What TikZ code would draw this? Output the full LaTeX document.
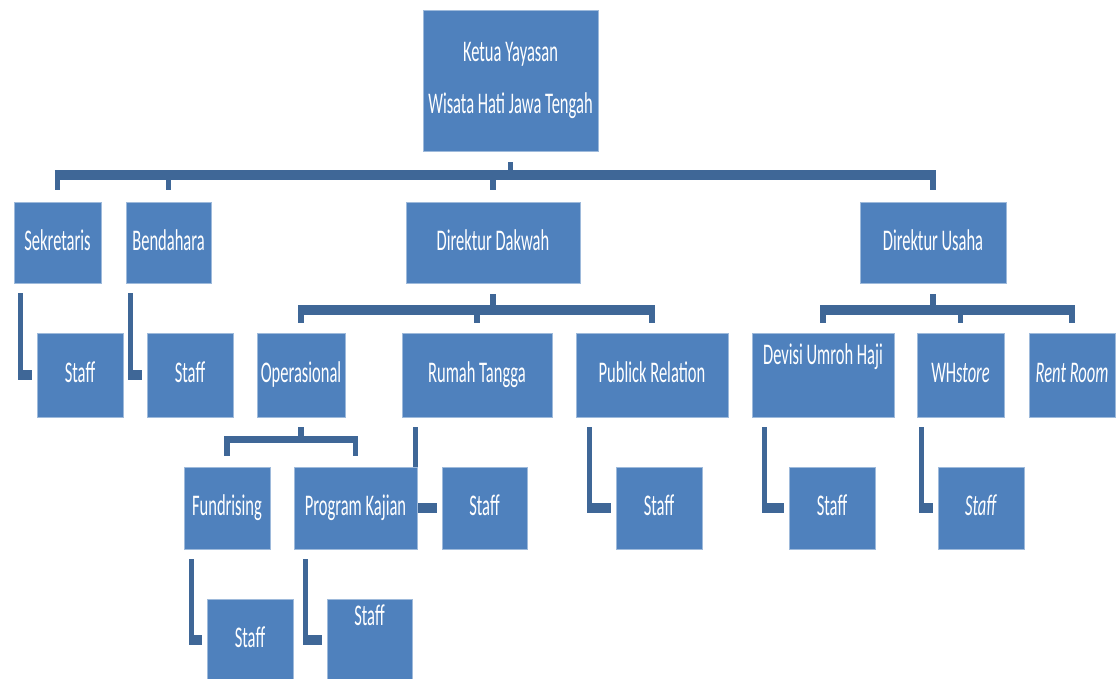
\documentclass[tikz,border=0pt]{standalone}
\usepackage{fontspec}
\setmainfont{Carlito}[FakeStretch=0.55]
\usetikzlibrary{calc}
\definecolor{boxblue}{HTML}{4F81BD}
\definecolor{linkblue}{HTML}{3F6797}
\pgfdeclarelayer{background}
\pgfdeclarelayer{canvas}
\pgfsetlayers{canvas,background,main}
\begin{document}
\begin{tikzpicture}[x=0.5pt,y=-0.5pt,
  base/.style={fill=boxblue, draw=boxblue!55!white, line width=0.4pt, text=white, inner sep=0pt},
  box/.style={base, font=\fontsize{15}{18}\selectfont, text height=10.5pt, text depth=3pt},
  hl/.style={draw=linkblue, line width=5pt},
  vl/.style={draw=linkblue, line width=2.6pt}]
\path[use as bounding box, clip] (0,0) rectangle (1118,679);
\begin{pgfonlayer}{canvas}
\fill[white] (0,0) rectangle (1118,679);
\end{pgfonlayer}
% level 0
\node[base, align=center, font=\fontsize{15}{26}\selectfont, minimum width=87.5pt, minimum height=70.5pt] (ketua) at (510.5,80.5) {Ketua Yayasan\\Wisata Hati Jawa Tengah};
% level 1
\node[box, minimum width=43.5pt, minimum height=40.5pt] (sek) at (57.5,242.5) {Sekretaris};
\node[box, minimum width=42.5pt, minimum height=40.5pt] (bend) at (168.5,242.5) {Bendahara};
\node[box, minimum width=87pt, minimum height=40.5pt] (dakwah) at (493,242.5) {Direktur Dakwah};
\node[box, minimum width=73pt, minimum height=40.5pt] (usaha) at (933,242.5) {Direktur Usaha};
% level 2
\node[box, minimum width=43pt, minimum height=42pt] (sekstaff) at (80,375) {Staff};
\node[box, minimum width=43pt, minimum height=42pt] (bendstaff) at (190,375) {Staff};
\node[box, minimum width=44pt, minimum height=42pt] (oper) at (301,375) {Operasional};
\node[box, minimum width=75pt, minimum height=42pt] (rumah) at (477,375) {Rumah Tangga};
\node[box, minimum width=76pt, minimum height=42pt] (pr) at (652,375) {Publick Relation};
\node[box, minimum width=71pt, minimum height=42pt, text height=10pt, text depth=20.5pt] (umroh) at (823,375) {Devisi Umroh Haji};
\node[box, minimum width=43.5pt, minimum height=42pt] (whstore) at (960.5,375) {WH\textit{store}};
\node[box, minimum width=43pt, minimum height=42pt] (rent) at (1072,375) {\textit{Rent Room}};
% level 3
\node[box, minimum width=43pt, minimum height=41pt] (fund) at (227,508) {Fundrising};
\node[box, minimum width=61.5pt, minimum height=41pt] (kajian) at (355.5,508) {Program Kajian};
\node[box, minimum width=42.5pt, minimum height=41pt] (rumahstaff) at (484.5,508) {Staff};
\node[box, minimum width=43pt, minimum height=41pt] (prstaff) at (659,508) {Staff};
\node[box, minimum width=43pt, minimum height=41pt] (umrohstaff) at (832,508) {Staff};
\node[box, minimum width=43pt, minimum height=41pt] (whstaff) at (981,508) {\textit{Staff}};
% level 4
\node[box, minimum width=43pt, minimum height=41pt] (fundstaff) at (250,640) {Staff};
\node[box, minimum width=42.5pt, minimum height=41pt, text height=10pt, text depth=25pt] (kajstaff) at (369.5,640) {Staff};

\begin{pgfonlayer}{background}
% ketua -> level 1
\coordinate (b1) at (510.5,175.5);
\draw[vl] ($(ketua.south)+(0,11)$) -- (ketua.south |- b1);
\draw[hl, shorten <=-1.3pt, shorten >=-1.3pt] (sek.north |- b1) -- (usaha.north |- b1);
\foreach \n in {sek,bend,dakwah,usaha}
  \draw[vl] (\n.north |- b1) -- ($(\n.north)+(0,-12)$);
% direktur dakwah -> level 2
\coordinate (b2) at (0,309.5);
\draw[vl] ($(dakwah.south)+(0,11)$) -- (dakwah.south |- b2);
\draw[hl, shorten <=-1.3pt, shorten >=-1.3pt] (oper.north |- b2) -- (pr.north |- b2);
\foreach \n in {oper,rumah,pr}
  \draw[vl] (\n.north |- b2) -- ($(\n.north)+(0,-10)$);
% direktur usaha -> level 2
\draw[vl] ($(usaha.south)+(0,11)$) -- (usaha.south |- b2);
\draw[hl, shorten <=-1.3pt, shorten >=-1.3pt] (umroh.north |- b2) -- (rent.north |- b2);
\foreach \n in {umroh,whstore,rent}
  \draw[vl] (\n.north |- b2) -- ($(\n.north)+(0,-10)$);
% operasional -> level 3
\coordinate (b3) at (0,439.5);
\draw[vl] ($(oper.south)+(0,10)$) -- (oper.south |- b3);
\draw[draw=linkblue, line width=3.6pt, shorten <=-1.3pt, shorten >=-1.3pt] (fund.north |- b3) -- (kajian.north |- b3);
\foreach \n in {fund,kajian}
  \draw[vl] (\n.north |- b3) -- ($(\n.north)+(0,-11)$);
% staff elbows
\foreach \p/\c/\dx in {sek/sekstaff/7, bend/bendstaff/5, rumah/rumahstaff/14, pr/prstaff/14, umroh/umrohstaff/13, whstore/whstaff/5, fund/fundstaff/8, kajian/kajstaff/12}{
  \draw[vl] ($(\p.south west)+(\dx,10)$) coordinate (t) -- (t |- \c.west);
  \draw[hl, shorten <=-1.3pt, shorten >=2.5pt] (t |- \c.west) -- (\c.west);
}
\end{pgfonlayer}
\end{tikzpicture}
\end{document}
